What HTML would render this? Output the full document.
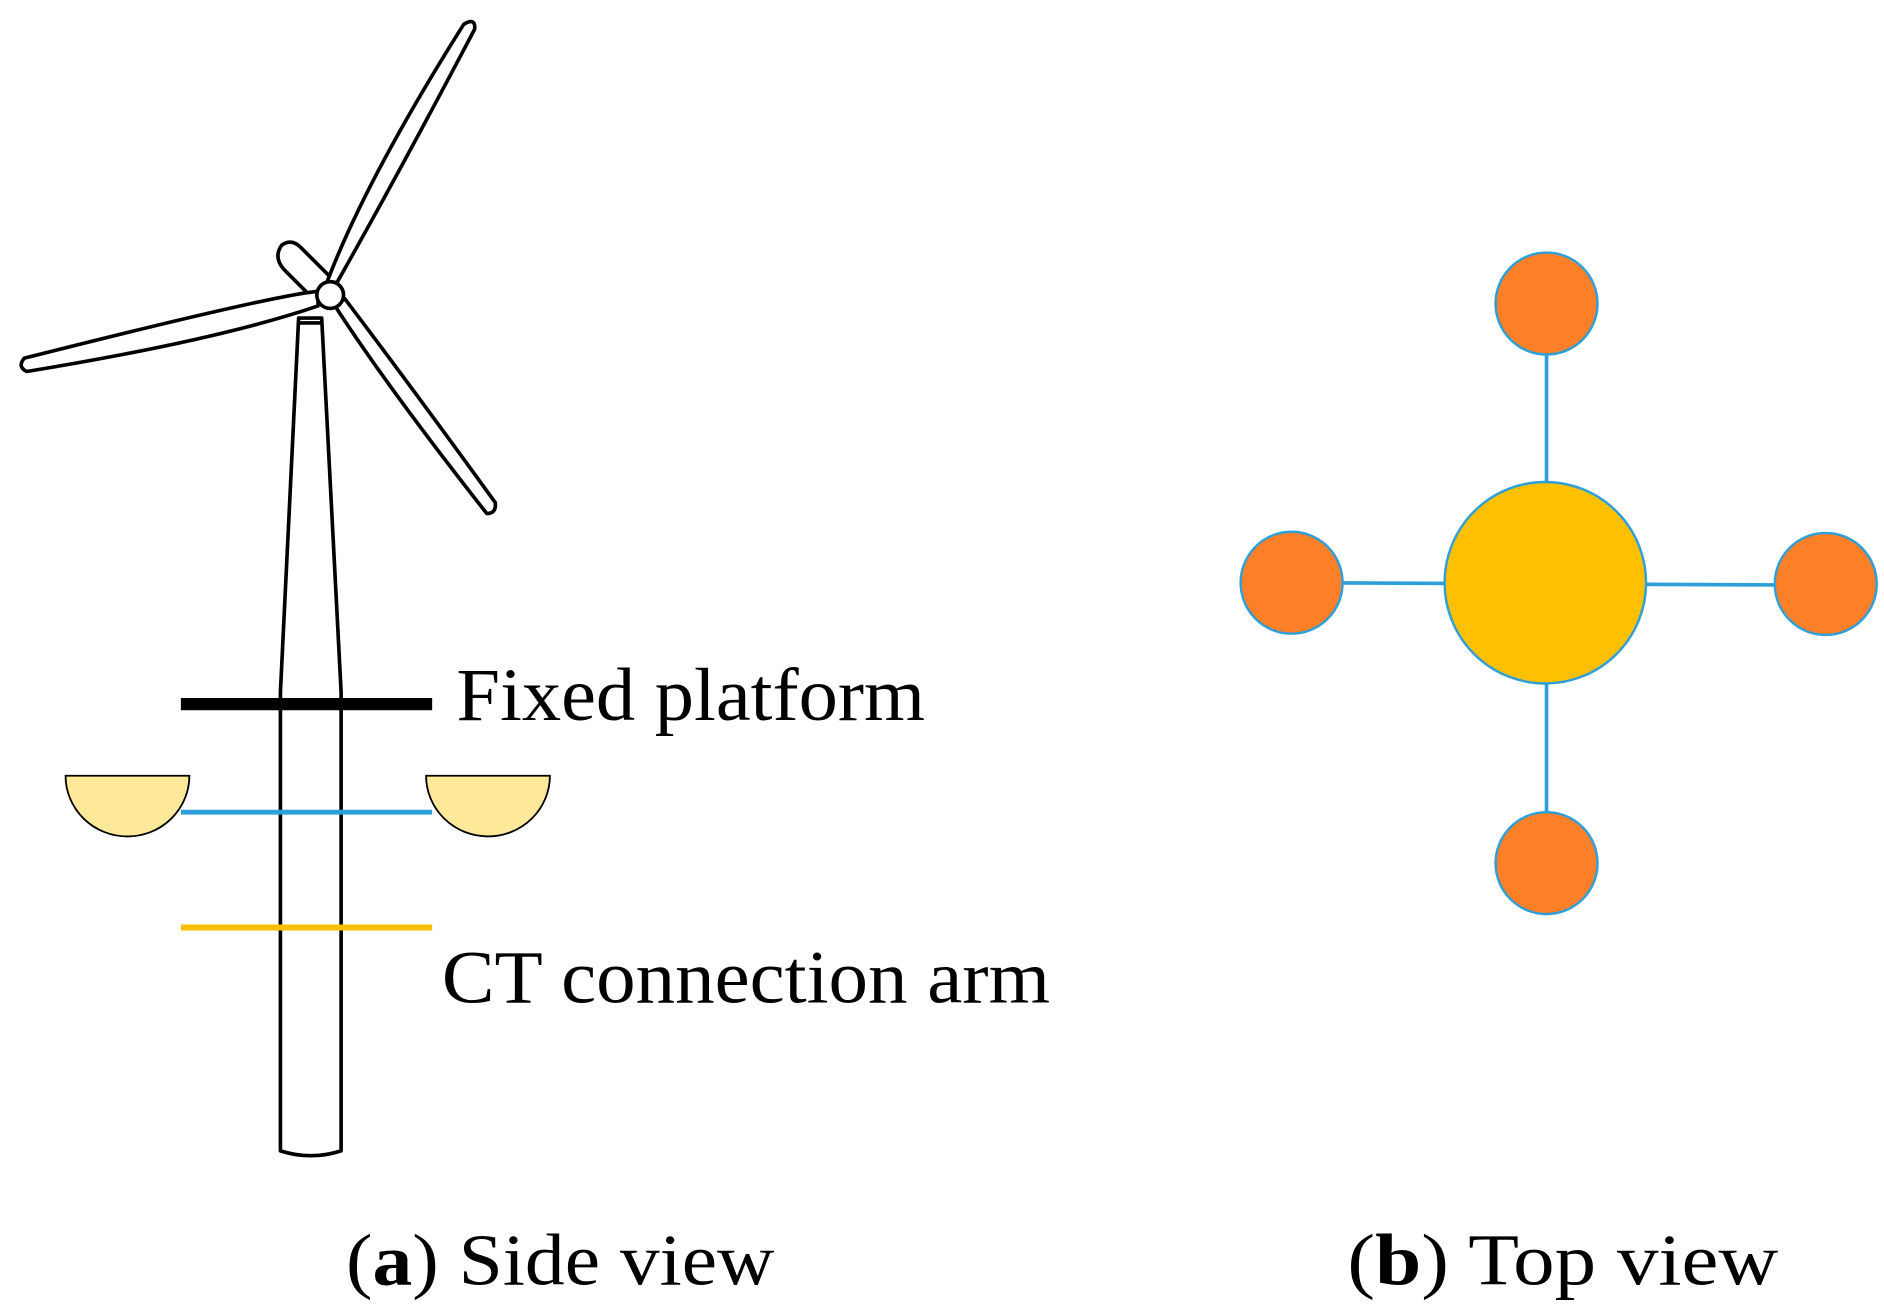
<!DOCTYPE html>
<html><head><meta charset="utf-8"><style>html,body{margin:0;padding:0;background:#fff}svg{display:block}</style></head>
<body>
<svg width="1884" height="1316" viewBox="0 0 1552 1084" xmlns="http://www.w3.org/2000/svg">
<rect width="1552" height="1084" fill="#fff"/>
<g fill="#fff" stroke="#000" stroke-width="3" stroke-linejoin="round">
  <path d="M246,262 L231,570 L231,948 Q256,956 281,948 L281,570 L265,262 Z"/>
  <line x1="246" y1="266" x2="265" y2="266"/>
  <path d="M232,202 Q240,196 248,204 L276,232 L262,250 L234,222 Q225,212 232,202 Z"/>
  <path d="M268,236 Q300,150 382,20 Q392,14 391,24 Q330,140 278,232 Z"/>
  <path d="M262,240 Q230,242 20,295 Q14,302 22,306 Q180,280 262,252 Z"/>
  <path d="M276,252 Q320,320 401,423 Q409,423 408,414 Q340,320 284,246 Z"/>
  <circle cx="272" cy="243" r="11"/>
</g>
<line x1="149" y1="580" x2="356" y2="580" stroke="#000" stroke-width="10"/>
<text x="376" y="593" font-family="Liberation Serif, serif" font-size="62" textLength="386" lengthAdjust="spacingAndGlyphs">Fixed platform</text>
<line x1="149" y1="669" x2="356" y2="669" stroke="#2e9fd8" stroke-width="4"/>
<path d="M54,639 L156,639 A51,50 0 0 1 54,639 Z" fill="#fee89a" stroke="#000" stroke-width="1.5"/>
<path d="M351,639 L453,639 A51,50 0 0 1 351,639 Z" fill="#fee89a" stroke="#000" stroke-width="1.5"/>
<line x1="149" y1="764" x2="356" y2="764" stroke="#fbbf00" stroke-width="5"/>
<text x="364" y="826" font-family="Liberation Serif, serif" font-size="62" textLength="501" lengthAdjust="spacingAndGlyphs">CT connection arm</text>
<text x="285" y="1058" font-family="Liberation Serif, serif" font-size="60" textLength="353" lengthAdjust="spacingAndGlyphs">(<tspan font-weight="bold">a</tspan>) Side view</text>
<text x="1110" y="1058" font-family="Liberation Serif, serif" font-size="60" textLength="355" lengthAdjust="spacingAndGlyphs">(<tspan font-weight="bold">b</tspan>) Top view</text>
<g stroke="#2e9fd8" stroke-width="3">
  <line x1="1274" y1="250" x2="1274" y2="711"/>
  <line x1="1064" y1="480" x2="1504" y2="482"/>
  <circle cx="1273" cy="480" r="83" fill="#fec000" stroke-width="2"/>
  <circle cx="1274" cy="250" r="42" fill="#fd7f27" stroke-width="2"/>
  <circle cx="1064" cy="480" r="42" fill="#fd7f27" stroke-width="2"/>
  <circle cx="1504" cy="481" r="42" fill="#fd7f27" stroke-width="2"/>
  <circle cx="1274" cy="711" r="42" fill="#fd7f27" stroke-width="2"/>
</g>
</svg>
</body></html>
